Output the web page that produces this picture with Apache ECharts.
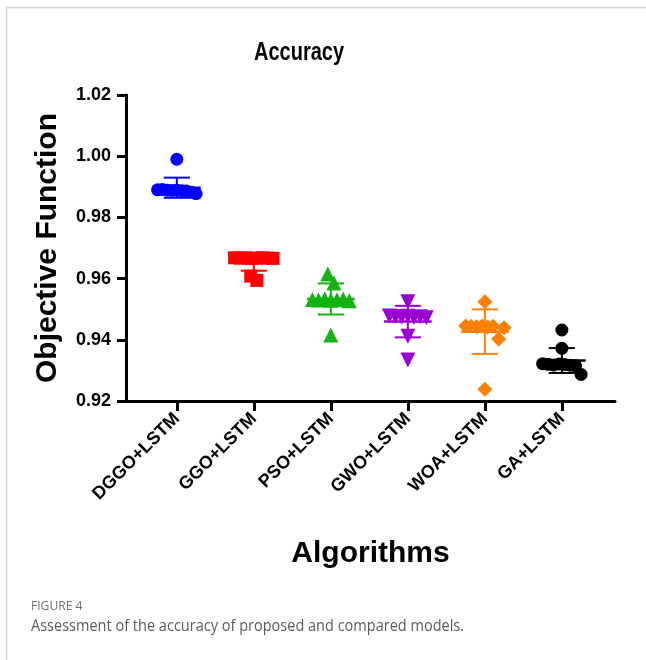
<!DOCTYPE html>
<html>
<head>
<meta charset="utf-8">
<script src="https://cdn.jsdelivr.net/npm/echarts@6/dist/echarts.min.js"></script>
<style>
  html, body { margin: 0; padding: 0; background: #fff; }
  #chart { width: 646px; height: 660px; }
</style>
</head>
<body>
<div id="chart"></div>
<script>
// Accuracy (objective function) of each optimiser + LSTM over repeated runs
const categories = ['DGGO+LSTM', 'GGO+LSTM', 'PSO+LSTM', 'GWO+LSTM', 'WOA+LSTM', 'GA+LSTM'];

const dggoLstm = [0.9990, 0.9890, 0.9891, 0.9889, 0.9888, 0.9889, 0.9887, 0.9886, 0.9882, 0.9878];
const ggoLstm  = [0.9668, 0.9667, 0.9668, 0.9666, 0.9667, 0.9668, 0.9667, 0.9666, 0.9608, 0.9594];
const psoLstm  = [0.9615, 0.9586, 0.9532, 0.9530, 0.9534, 0.9529, 0.9531, 0.9533, 0.9528, 0.9416];
const gwoLstm  = [0.9524, 0.9478, 0.9476, 0.9474, 0.9477, 0.9473, 0.9475, 0.9472, 0.9412, 0.9334];
const woaLstm  = [0.9524, 0.9445, 0.9444, 0.9443, 0.9445, 0.9442, 0.9444, 0.9403, 0.9439, 0.9238];
const gaLstm   = [0.9432, 0.9372, 0.9322, 0.9320, 0.9318, 0.9321, 0.9319, 0.9317, 0.9315, 0.9287];

const yTicks = [0.92, 0.94, 0.96, 0.98, 1.00, 1.02];

const groups = [dggoLstm, ggoLstm, psoLstm, gwoLstm, woaLstm, gaLstm];
const colors = ['#0000ff', '#ff0000', '#12b312', '#9b00d3', '#ff8000', '#000000'];
const symbols = ['circle', 'rect', 'triangle', 'triangle', 'diamond', 'circle'];
const symbolSizes = [13, 13, 15, 15, 15, 13];
const symbolRotates = [0, 0, 0, 180, 0, 0];

// Fan out near-equal values sideways so the dots of a column stay visible
function swarmOffsets(values, gap, step, maxHalf) {
  const order = values.map((v, i) => i).sort((a, b) => values[b] - values[a]);
  const clusters = [];
  let cur = [order[0]];
  for (let k = 1; k < order.length; k++) {
    if (values[order[k - 1]] - values[order[k]] < gap) cur.push(order[k]);
    else { clusters.push(cur); cur = [order[k]]; }
  }
  clusters.push(cur);
  const off = values.map(() => 0);
  clusters.forEach(c => {
    c.sort((a, b) => a - b);
    const n = c.length;
    if (n < 2) return;
    const half = Math.min(maxHalf, (n - 1) * step / 2);
    c.forEach((idx, j) => { off[idx] = -half + j * (2 * half / (n - 1)); });
  });
  return off;
}

function mean(a) { return a.reduce((s, v) => s + v, 0) / a.length; }
function sd(a) {
  const m = mean(a);
  return Math.sqrt(a.reduce((s, v) => s + (v - m) * (v - m), 0) / (a.length - 1));
}

const stats = groups.map((g, i) => [i, mean(g), sd(g)]);

const boldFont = '"Liberation Sans", Arial, sans-serif';

const scatterSeries = groups.map((g, i) => {
  const off = swarmOffsets(g, 0.004, 0.08, 0.25);
  return {
    name: categories[i],
    type: 'scatter',
    z: 3,
    symbol: symbols[i],
    symbolSize: symbolSizes[i],
    symbolRotate: symbolRotates[i],
    itemStyle: { color: colors[i], opacity: 1 },
    emphasis: { disabled: true },
    data: g.map((v, k) => [i + off[k], v])
  };
});

// Mean line with ±SD whiskers for every column
const errorSeries = {
  type: 'custom',
  z: 2,
  data: stats,
  renderItem: function (params, api) {
    const i = api.value(0), m = api.value(1), s = api.value(2);
    const c = colors[i];
    const pMeanL = api.coord([i - 0.31, m]);
    const pMeanR = api.coord([i + 0.31, m]);
    const pTop = api.coord([i, m + s]);
    const pBot = api.coord([i, m - s]);
    const pTopL = api.coord([i - 0.17, m + s]);
    const pTopR = api.coord([i + 0.17, m + s]);
    const pBotL = api.coord([i - 0.17, m - s]);
    const pBotR = api.coord([i + 0.17, m - s]);
    const st = { stroke: c, lineWidth: 2 };
    return {
      type: 'group',
      children: [
        { type: 'line', shape: { x1: pMeanL[0], y1: pMeanL[1], x2: pMeanR[0], y2: pMeanR[1] }, style: { stroke: c, lineWidth: 2.5 } },
        { type: 'line', shape: { x1: pTop[0], y1: pTop[1], x2: pBot[0], y2: pBot[1] }, style: st },
        { type: 'line', shape: { x1: pTopL[0], y1: pTopL[1], x2: pTopR[0], y2: pTopR[1] }, style: st },
        { type: 'line', shape: { x1: pBotL[0], y1: pBotL[1], x2: pBotR[0], y2: pBotR[1] }, style: st }
      ]
    };
  }
};

const chart = echarts.init(document.getElementById('chart'), null, { renderer: 'canvas' });

chart.setOption({
  animation: false,
  backgroundColor: '#ffffff',
  grid: { left: 126, right: 31, top: 95, bottom: 259, containLabel: false },
  xAxis: {
    type: 'value',
    min: -0.66,
    max: 5.69,
    splitLine: { show: false },
    axisLine: { show: true, onZero: false, lineStyle: { color: '#000', width: 3 } },
    axisTick: { show: true, customValues: categories.map((c, i) => i), length: 10, lineStyle: { color: '#000', width: 3 } },
    axisLabel: {
      show: true,
      customValues: categories.map((c, i) => i),
      rotate: 45,
      margin: 15,
      fontFamily: boldFont,
      fontWeight: 'bold',
      fontSize: 18,
      color: '#000',
      formatter: v => categories[Math.round(v)]
    },
    name: 'Algorithms',
    nameLocation: 'middle',
    nameGap: 138,
    nameTextStyle: { fontFamily: boldFont, fontWeight: 'bold', fontSize: 30, color: '#000' }
  },
  yAxis: {
    type: 'value',
    min: yTicks[0],
    max: yTicks[yTicks.length - 1],
    interval: 0.02,
    splitLine: { show: false },
    axisLine: { show: true, onZero: false, lineStyle: { color: '#000', width: 3 } },
    axisTick: { show: true, length: 9, lineStyle: { color: '#000', width: 3 } },
    axisLabel: {
      margin: 15,
      fontFamily: boldFont,
      fontWeight: 'bold',
      fontSize: 18,
      color: '#000',
      formatter: v => v.toFixed(2)
    },
    name: 'Objective Function',
    nameLocation: 'middle',
    nameGap: 63,
    nameTextStyle: { fontFamily: boldFont, fontWeight: 'bold', fontSize: 30, color: '#000' }
  },
  graphic: [
    { type: 'line', shape: { x1: 6, y1: 7.5, x2: 646, y2: 7.5 }, style: { stroke: '#d4d4d4', lineWidth: 1.5 } },
    { type: 'line', shape: { x1: 6.5, y1: 7, x2: 6.5, y2: 660 }, style: { stroke: '#d4d4d4', lineWidth: 1.5 } },
    {
      type: 'text', x: 299, y: 53, scaleY: 1.25,
      style: { text: 'Accuracy', fontFamily: boldFont, fontWeight: 'bold', fontSize: 20, fill: '#000', align: 'center', verticalAlign: 'middle' }
    },
    {
      type: 'text', x: 31, y: 606, scaleX: 0.93,
      style: { text: 'FIGURE 4', fontFamily: '"Open Sans", sans-serif', fontSize: 13, fill: '#707070', align: 'left', verticalAlign: 'middle' }
    },
    {
      type: 'text', x: 31, y: 626, scaleX: 0.88,
      style: { text: 'Assessment of the accuracy of proposed and compared models.', fontFamily: '"Open Sans", sans-serif', fontSize: 16.5, fill: '#5a5a5a', align: 'left', verticalAlign: 'middle' }
    }
  ],
  series: [errorSeries].concat(scatterSeries)
});
</script>
</body>
</html>
